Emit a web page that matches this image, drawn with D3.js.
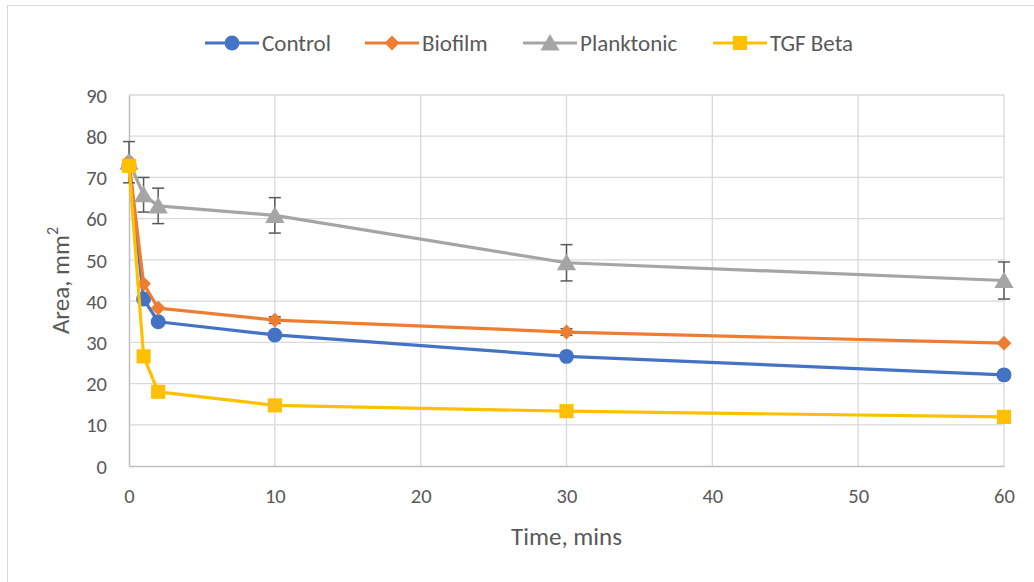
<!DOCTYPE html>
<html><head><meta charset="utf-8">
<script src="https://cdn.jsdelivr.net/npm/d3@7"></script>
<style>body{margin:0;background:#fff}svg{display:block}text{font-family:Carlito,Lato,"Open Sans",sans-serif;fill:#595959}</style>
</head><body><svg id="c" width="1034" height="582"></svg>
<script>
const times = [0, 1, 2, 10, 30, 60];
const control = [73.2, 40.5, 35.0, 31.8, 26.6, 22.1];
const biofilm = [74.0, 44.2, 38.3, 35.4, 32.5, 29.8];
const planktonic = [73.7, 65.8, 63.1, 60.8, 49.3, 45.0];
const planktonicErr = [5.0, 4.2, 4.3, 4.3, 4.4, 4.5];
const biofilmErr = [0, 0, 0, 0.8, 0.8, 0];
const tgfBeta = [72.8, 26.6, 18.0, 14.7, 13.3, 11.9];
const xTicks = [0, 10, 20, 30, 40, 50, 60];
const yTicks = [0, 10, 20, 30, 40, 50, 60, 70, 80, 90];

const series = [
  {name: "Control", values: control, color: "#4472C4", shape: "circle", err: null},
  {name: "Biofilm", values: biofilm, color: "#ED7D31", shape: "diamond", err: biofilmErr},
  {name: "Planktonic", values: planktonic, color: "#A5A5A5", shape: "triangle", err: planktonicErr},
  {name: "TGF Beta", values: tgfBeta, color: "#FFC000", shape: "square", err: null}
];

const FONT = "Carlito, Lato, 'Open Sans', sans-serif";
const svg = d3.select("#c");
svg.append("rect").attr("x", 7.5).attr("y", 5.5).attr("width", 1100).attr("height", 700)
  .attr("fill", "#fff").attr("stroke", "#d9d9d9");

const x = d3.scaleLinear().domain([0, 60]).range([129, 1004]);
const y = d3.scaleLinear().domain([0, 90]).range([466, 95]);

const g = svg.append("g");
g.selectAll(".hg").data(yTicks.slice(1)).join("line")
  .attr("x1", x(0)).attr("x2", x(60)).attr("y1", d => y(d)).attr("y2", d => y(d))
  .attr("stroke", "#d9d9d9").attr("stroke-width", 1.3);
g.selectAll(".vg").data(xTicks.slice(1)).join("line")
  .attr("y1", y(0)).attr("y2", y(90)).attr("x1", d => x(d)).attr("x2", d => x(d))
  .attr("stroke", "#d9d9d9").attr("stroke-width", 1.3);

const xAxis = d3.axisBottom(x).tickValues(xTicks).tickSize(0).tickPadding(22);
const yAxis = d3.axisLeft(y).tickValues(yTicks).tickSize(0).tickPadding(22);
const gx = svg.append("g").attr("transform", `translate(0,${y(0)})`).call(xAxis);
const gy = svg.append("g").attr("transform", `translate(${x(0)},0)`).call(yAxis);
[gx, gy].forEach(a => {
  a.select(".domain").attr("stroke", "#bfbfbf").attr("stroke-width", 1.5);
  a.selectAll("text").attr("font-size", 20.5).attr("font-family", FONT).attr("fill", "#595959");
});
gy.selectAll("text").attr("dy", "0.35em");

svg.append("text").attr("x", x(30)).attr("y", 545).attr("text-anchor", "middle")
  .attr("font-size", 25).text("Time, mins");
const yt = svg.append("text").attr("transform", `translate(69,${y(45)}) rotate(-90)`)
  .attr("text-anchor", "middle").attr("font-size", 25);
yt.append("tspan").text("Area, mm");
yt.append("tspan").attr("font-size", 16).attr("dy", -11).text("2");

const sym = {
  circle: d3.symbol().type(d3.symbolCircle).size(175),
  diamond: d3.symbol().type(d3.symbolSquare).size(110),
  triangle: d3.symbol().type(d3.symbolTriangle).size(160),
  square: d3.symbol().type(d3.symbolSquare).size(200)
};
const rot = {circle: 0, diamond: 45, triangle: 0, square: 0};
const dy = {circle: 0, diamond: 0, triangle: 2, square: 0};

const line = d3.line().x(d => x(d[0])).y(d => y(d[1]));
series.forEach(s => {
  const pts = times.map((t, i) => [t, s.values[i]]);
  const sg = svg.append("g");
  sg.append("path").datum(pts).attr("d", line).attr("fill", "none")
    .attr("stroke", s.color).attr("stroke-width", 3.2).attr("stroke-linejoin", "round");
  if (s.err) {
    pts.forEach((p, i) => {
      const e = s.err[i];
      if (!e) return;
      const eg = sg.append("g").attr("stroke", "#595959").attr("stroke-width", 1.5);
      eg.append("line").attr("x1", x(p[0])).attr("x2", x(p[0])).attr("y1", y(p[1] - e)).attr("y2", y(p[1] + e));
      eg.append("line").attr("x1", x(p[0]) - 6).attr("x2", x(p[0]) + 6).attr("y1", y(p[1] - e)).attr("y2", y(p[1] - e));
      eg.append("line").attr("x1", x(p[0]) - 6).attr("x2", x(p[0]) + 6).attr("y1", y(p[1] + e)).attr("y2", y(p[1] + e));
    });
  }
  sg.selectAll("path.m").data(pts).join("path").attr("class", "m")
    .attr("d", sym[s.shape]).attr("fill", s.color)
    .attr("transform", d => `translate(${x(d[0])},${y(d[1]) + dy[s.shape]}) rotate(${rot[s.shape]})`);
});

const legX = [205, 365, 523, 713];
series.forEach((s, i) => {
  const lg = svg.append("g").attr("transform", `translate(${legX[i]},43)`);
  lg.append("line").attr("x1", 0).attr("x2", 54).attr("stroke", s.color).attr("stroke-width", 3.2);
  lg.append("path").attr("d", sym[s.shape]).attr("fill", s.color)
    .attr("transform", `translate(27,${dy[s.shape]}) rotate(${rot[s.shape]})`);
  lg.append("text").attr("x", 57).attr("dy", "0.35em").attr("font-size", 23).text(s.name);
});
</script></body></html>
